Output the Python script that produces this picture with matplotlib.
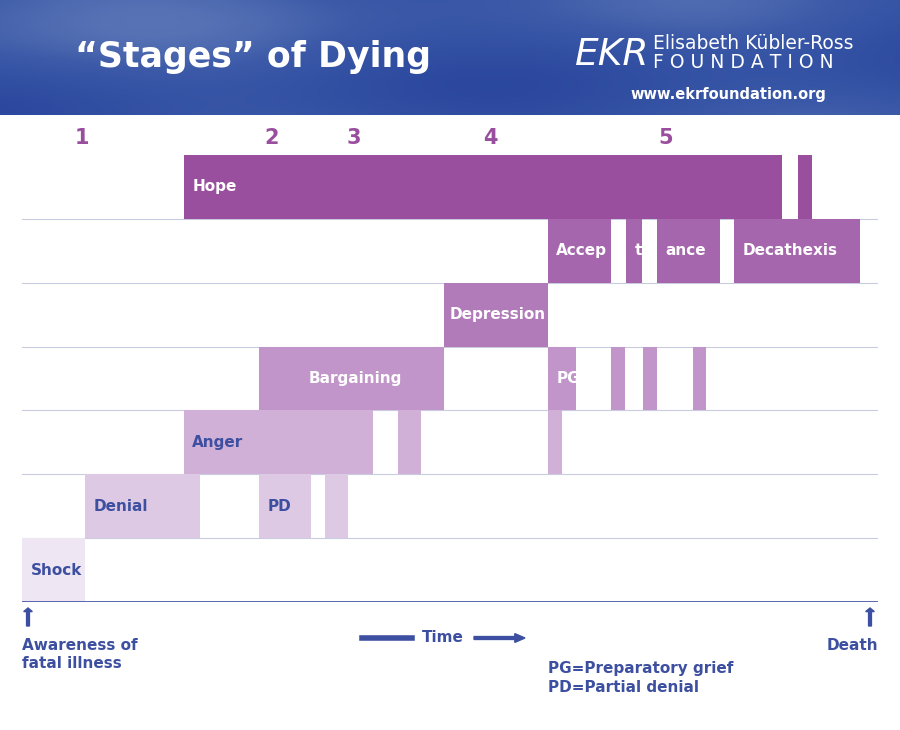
import numpy as np
import matplotlib.pyplot as plt

W, H = 900, 730

# rows bottom -> top, time units 0..100 (awareness -> death)
rows = ["Shock", "Denial", "Anger", "Bargaining", "Depression", "Acceptance", "Hope"]
segments = {
    "Hope": [(18.9, 88.8, "Hope"), (90.7, 92.3, "")],
    "Acceptance": [(61.4, 68.8, "Accep"), (70.6, 72.4, "t"), (74.2, 81.5, "ance"), (83.2, 97.9, "Decathexis")],
    "Depression": [(49.3, 61.4, "Depression")],
    "Bargaining": [(27.7, 49.3, "Bargaining"), (61.4, 64.7, "PG"), (68.8, 70.4, ""), (72.5, 74.2, ""), (78.4, 79.9, "")],
    "Anger": [(18.9, 41.0, "Anger"), (43.9, 46.6, ""), (61.4, 63.1, "")],
    "Denial": [(7.4, 20.8, "Denial"), (27.7, 33.8, "PD"), (35.4, 38.1, "")],
    "Shock": [(0.0, 7.4, "Shock")],
}
label_pad = {"Bargaining": 5.8, "Depression": 0.7}
row_colors = ["#efe6f3", "#ddc9e3", "#d0b0d7", "#c195c9", "#b07bb8", "#a566ad", "#9a4f9e"]
text_colors = ["#3d4fa0", "#3d4fa0", "#3d4fa0", "white", "white", "white", "white"]
stage_nums = ["1", "2", "3", "4", "5"]
stage_x = [7.0, 29.2, 38.8, 54.7, 75.2]

blue = "#3d4fa0"
purple = "#9a4f9e"

fig = plt.figure(figsize=(W / 100, H / 100), dpi=100)

# header band
hax = fig.add_axes([0, 1 - 115 / H, 1, 115 / H])
gx = np.linspace(0, 1, 300)
gy = np.linspace(0, 1, 40)
X, Y = np.meshgrid(gx, gy)
v = 0.5 + 0.25 * np.sin(6 * X + 2 * Y) * np.cos(3 * Y - 4 * X) + 0.2 * (1 - Y) * (1 - X)
from matplotlib.colors import LinearSegmentedColormap
cmap = LinearSegmentedColormap.from_list("sky", ["#23409a", "#3c5aa8", "#8197c8"])
hax.imshow(v, cmap=cmap, aspect="auto", extent=[0, 1, 0, 1], vmin=0.1, vmax=1.2)
hax.axis("off")
hax.text(75 / W, 0.5, "\u201cStages\u201d of Dying", color="white", fontsize=25, fontweight="bold",
         va="center", ha="left", family="Poppins" if False else "DejaVu Sans")
hax.text(612 / W, 0.52, "EKR", color="white", fontsize=27, ha="center", va="center", style="italic")
hax.text(653 / W, 0.62, "Elisabeth Kübler-Ross", color="white", fontsize=13.5, ha="left", va="center")
hax.text(653 / W, 0.46, "F O U N D A T I O N", color="white", fontsize=13.5, ha="left", va="center")
hax.text(826 / W, 0.18, "www.ekrfoundation.org", color="white", fontsize=10.5, ha="right",
         va="center", fontweight="bold")

# main chart
ax = fig.add_axes([22 / W, 1 - 602 / H, 856 / W, 447 / H])
for i, r in enumerate(rows):
    for (s, e, lab) in segments[r]:
        ax.barh(i + 0.5, e - s, left=s, height=1.0, color=row_colors[i], edgecolor="none")
        if lab:
            ax.text(s + label_pad.get(lab, 1.0), i + 0.5, lab, color=text_colors[i], fontsize=11,
                    fontweight="bold", va="center", ha="left")
for k in range(1, len(rows)):
    ax.axhline(k, color="#c9cbe0", lw=0.8, zorder=0)
ax.axhline(0, color=blue, lw=1.2)
ax.set_xlim(0, 100)
ax.set_ylim(0, 7)
ax.axis("off")
for n, x in zip(stage_nums, stage_x):
    ax.text(x, 7.27, n, color=purple, fontsize=15, fontweight="bold", ha="center", va="center")

# footer annotations
def fy(py):
    return 1 - py / H

for px in (28, 870):
    fig.add_artist(plt.Arrow(px / W, fy(626), 0, 18 / H, width=0.016, color=blue))
fig.text(22 / W, fy(638), "Awareness of\nfatal illness", color=blue, fontsize=11, fontweight="bold",
         va="top", ha="left", linespacing=1.25)
fig.text(878 / W, fy(638), "Death", color=blue, fontsize=11, fontweight="bold", va="top", ha="right")
fig.add_artist(plt.Line2D([362 / W, 412 / W], [fy(638)] * 2, color=blue, lw=4))
fig.text(443 / W, fy(638), "Time", color=blue, fontsize=11, fontweight="bold", ha="center", va="center")
fig.add_artist(plt.Arrow(474 / W, fy(638), 51 / W, 0, width=0.02, color=blue))
fig.text(548 / W, fy(678), "PG=Preparatory grief\nPD=Partial denial", color=blue, fontsize=11,
         fontweight="bold", ha="left", va="center", linespacing=1.3)

fig.savefig("out.png", dpi=100)
